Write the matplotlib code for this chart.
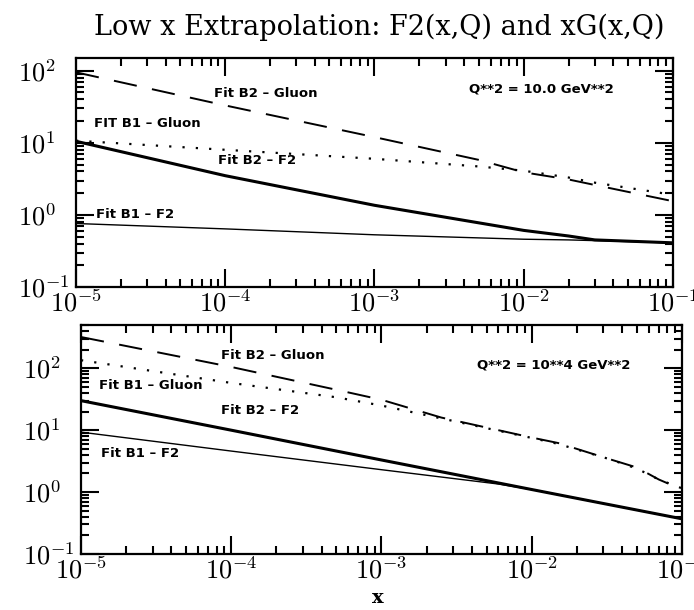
import matplotlib
matplotlib.use("Agg")
import numpy as np
import matplotlib.pyplot as plt
from matplotlib.ticker import NullFormatter, FuncFormatter, FixedLocator

plt.rcParams['mathtext.fontset'] = 'cm'

# values
# top panel, Q**2 = 10 GeV**2
x_top_gluon = [1e-5, 1e-4, 1e-3, 5e-3, 1e-2, 2e-2, 3e-2, 1e-1]
top_b2_gluon = [95, 33, 12, 5.8, 3.9, 3.1, 2.6, 1.55]
top_b1_gluon = [10.7, 8.0, 6.0, 4.7, 4.1, 3.3, 2.8, 1.9]
x_top_f2 = [1e-5, 1e-4, 1e-3, 1e-2, 2e-2, 3e-2, 1e-1]
top_b2_f2 = [10.5, 3.5, 1.36, 0.61, 0.51, 0.45, 0.41]
top_b1_f2 = [0.76, 0.64, 0.53, 0.46, 0.45, 0.44, 0.41]

# bottom panel, Q**2 = 10**4 GeV**2
x_bot_gluon = [1e-5, 1e-4, 5e-4, 1e-3, 2.5e-3, 1e-2, 1.5e-2, 3.3e-2, 5e-2, 7e-2, 1e-1]
bot_b2_gluon = [320, 105, 45, 31, 16, 7.6, 6.2, 3.4, 2.5, 1.6, 1.1]
bot_b1_gluon = [135, 58, 34, 25, 15.5, 7.5, 6.0, 3.4, 2.4, 1.6, 1.15]
x_bot_b2_f2 = [1e-5, 1e-4, 1e-3, 1e-2, 1e-1]
bot_b2_f2 = [30, 10, 3.3, 1.1, 0.37]
x_bot_b1_f2 = [1e-5, 1e-4, 1e-3, 6e-3, 1e-2, 1e-1]
bot_b1_f2 = [9.3, 4.6, 2.3, 1.35, 1.1, 0.37]

fig = plt.figure(figsize=(6.94, 6.10), dpi=100)
ax1 = fig.add_axes([0.1095, 0.5295, 0.860, 0.3754])
ax2 = fig.add_axes([0.1167, 0.0918, 0.866, 0.3754])

pow_fmt = FuncFormatter(lambda v, pos: r'$10^{%d}$' % round(np.log10(v)))
decades = 10.0 ** np.arange(-6, 4)
major_locs = list(decades)
minor_locs = [m * d for d in decades for m in range(2, 10)]


def style(ax, ymax):
    ax.set_xscale('log')
    ax.set_yscale('log')
    for axis in (ax.xaxis, ax.yaxis):
        axis.set_major_locator(FixedLocator(major_locs))
        axis.set_minor_locator(FixedLocator(minor_locs))
        axis.set_major_formatter(pow_fmt)
        axis.set_minor_formatter(NullFormatter())
    ax.set_xlim(1e-5, 1e-1)
    ax.set_ylim(0.1, ymax)
    ax.tick_params(which='both', direction='in', top=True, right=True,
                   bottom=True, left=True, color='black')
    ax.tick_params(which='major', length=13, width=1.5)
    ax.tick_params(which='minor', length=5.5, width=1.5)
    ax.tick_params(axis='x', labelsize=19, pad=3)
    ax.tick_params(axis='y', labelsize=19, pad=42)
    for s in ax.spines.values():
        s.set_linewidth(1.6)
    plt.setp(ax.get_yticklabels(), ha='left')


def curves(ax, xg, b2g, b1g, xb2, b2f, xb1, b1f):
    ax.plot(xg, b2g, color='black', lw=1.4, linestyle=(0, (12, 8)))
    ax.plot(xg, b1g, color='black', lw=1.6, linestyle=(0, (1, 5)))
    ax.plot(xb2, b2f, color='black', lw=2.2)
    ax.plot(xb1, b1f, color='black', lw=1.0)


lbl = dict(fontsize=9.5, fontweight='bold', family='DejaVu Sans', va='center', ha='left')

curves(ax1, x_top_gluon, top_b2_gluon, top_b1_gluon, x_top_f2, top_b2_f2, x_top_f2, top_b1_f2)
style(ax1, 150)
ax1.text(8.4e-5, 48, 'Fit B2 – Gluon', **lbl)
ax1.text(1.32e-5, 18.6, 'FIT B1 – Gluon', **lbl)
ax1.text(8.9e-5, 5.7, 'Fit B2 – F2', **lbl)
ax1.text(1.36e-5, 1.0, 'Fit B1 – F2', **lbl)
ax1.text(4.3e-3, 56, 'Q**2 = 10.0 GeV**2', **lbl)

curves(ax2, x_bot_gluon, bot_b2_gluon, bot_b1_gluon, x_bot_b2_f2, bot_b2_f2, x_bot_b1_f2, bot_b1_f2)
style(ax2, 500)
ax2.text(8.6e-5, 160, 'Fit B2 – Gluon', **lbl)
ax2.text(1.32e-5, 52, 'Fit B1 – Gluon', **lbl)
ax2.text(8.6e-5, 21, 'Fit B2 – F2', **lbl)
ax2.text(1.36e-5, 4.2, 'Fit B1 – F2', **lbl)
ax2.text(4.3e-3, 113, 'Q**2 = 10**4 GeV**2', **lbl)

fig.text(379 / 694, 1 - 27 / 610, 'Low x Extrapolation: F2(x,Q) and xG(x,Q)',
         family='DejaVu Serif', fontsize=19.5, ha='center', va='center')
fig.text(378 / 694, 1 - 598 / 610, 'x', family='DejaVu Serif', fontsize=14,
         fontweight='bold', ha='center', va='center')

fig.savefig('out.png', dpi=100, facecolor='white')
